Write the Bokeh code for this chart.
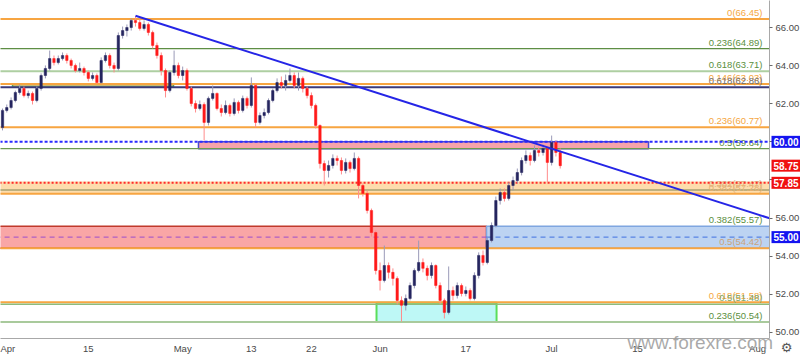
from bokeh.plotting import figure
from bokeh.models import Range1d, FixedTicker, Label, ColumnDataSource, PrintfTickFormatter
from bokeh.core.properties import value
from bokeh.embed import file_html
from bokeh.resources import INLINE

# ---------------- data ----------------
# candles: two per trading day, x in trading days from 1 Apr
first_open = 60.75
close = [61.65, 61.80, 62.17, 62.59, 62.80, 62.43, 62.54, 62.17, 62.80, 63.48,
         63.85, 64.37, 64.16, 64.37, 64.53, 64.27, 64.01, 63.74, 63.85, 63.64,
         63.33, 63.48, 63.11, 64.27, 64.53, 64.01, 63.85, 65.58, 65.84, 66.00,
         66.37, 66.26, 65.95, 66.16, 65.74, 65.06, 64.53, 63.74, 62.69, 63.64,
         64.01, 63.48, 63.74, 62.80, 62.01, 61.75, 61.96, 61.02, 62.28, 62.54,
         61.75, 61.54, 61.91, 61.49, 62.07, 61.65, 62.28, 61.91, 62.96, 61.02,
         61.38, 61.54, 62.17, 62.69, 63.11, 62.96, 63.22, 63.48, 62.96, 63.33,
         62.80, 62.43, 61.91, 60.86, 58.86, 58.50, 58.76, 59.13, 59.02, 58.50,
         58.92, 58.60, 59.13, 57.71, 57.29, 56.40, 55.24, 53.25, 52.73, 53.51,
         53.15, 52.83, 51.68, 51.42, 51.78, 52.46, 53.25, 53.67, 53.36, 52.99,
         53.51, 52.46, 51.68, 51.05, 52.20, 51.94, 52.46, 52.04, 52.20, 51.78,
         52.99, 54.04, 53.67, 54.82, 55.61, 56.92, 57.34, 57.03, 57.71, 57.97,
         58.39, 59.02, 59.28, 59.02, 59.55, 59.44, 59.65, 58.92, 59.97, 59.44,
         58.75]
high = [61.75, 61.96, 62.33, 62.69, 63.01, 62.90, 62.69, 62.64, 62.90, 63.59,
        64.01, 64.79, 64.53, 64.53, 64.69, 64.64, 64.37, 64.11, 64.16, 63.95,
        63.74, 63.64, 63.59, 64.43, 64.69, 64.64, 64.16, 65.74, 66.05, 66.16,
        66.47, 66.60, 66.47, 66.37, 66.26, 65.84, 65.21, 64.69, 63.85, 63.74,
        64.79, 64.16, 63.95, 63.85, 62.90, 62.17, 62.17, 62.07, 62.38, 62.96,
        62.59, 61.96, 62.17, 62.01, 62.28, 62.17, 62.43, 62.38, 63.38, 63.06,
        61.54, 61.75, 62.28, 62.80, 63.33, 63.43, 63.53, 63.85, 63.64, 63.64,
        63.43, 62.90, 62.59, 62.01, 60.91, 59.02, 59.02, 59.34, 59.28, 59.18,
        59.13, 59.02, 59.44, 59.23, 57.82, 57.45, 56.50, 55.35, 53.67, 54.56,
        53.67, 53.36, 52.94, 51.89, 51.99, 52.62, 53.36, 54.82, 53.88, 53.51,
        53.67, 53.57, 52.62, 51.78, 53.46, 52.41, 52.62, 52.57, 52.41, 52.31,
        53.15, 54.20, 54.30, 54.98, 55.77, 57.13, 57.55, 57.55, 57.87, 58.18,
        58.60, 59.18, 59.55, 59.44, 59.81, 59.76, 59.86, 59.76, 60.33, 60.07,
        59.65]
low = [60.60, 61.54, 61.70, 62.07, 62.48, 62.33, 62.28, 61.96, 62.07, 62.69,
       63.33, 63.74, 64.01, 64.06, 64.27, 64.11, 63.85, 63.64, 63.64, 63.48,
       63.17, 63.22, 63.06, 63.06, 64.16, 63.85, 63.64, 63.74, 65.42, 65.53,
       65.84, 66.05, 65.84, 65.84, 65.58, 64.90, 64.37, 63.48, 62.33, 62.59,
       63.48, 63.33, 63.22, 62.69, 61.86, 61.54, 61.65, 60.07, 60.86, 62.17,
       61.65, 61.33, 61.44, 61.33, 61.38, 61.49, 61.54, 61.75, 61.80, 60.75,
       60.91, 61.23, 61.44, 62.07, 62.59, 62.80, 62.69, 63.11, 62.80, 62.69,
       62.59, 62.28, 61.75, 60.70, 58.60, 57.71, 58.13, 58.60, 58.76, 58.29,
       58.34, 58.39, 58.50, 57.03, 57.13, 56.24, 55.03, 53.04, 52.20, 52.62,
       52.83, 52.46, 51.47, 50.57, 51.15, 51.68, 52.31, 53.15, 53.15, 52.73,
       52.83, 52.31, 51.47, 50.73, 50.94, 51.68, 51.78, 51.89, 51.89, 51.68,
       51.68, 52.83, 53.51, 53.57, 54.72, 55.51, 56.71, 56.87, 56.92, 57.45,
       57.82, 58.24, 58.86, 58.76, 58.92, 59.23, 59.28, 57.87, 58.76, 59.23,
       58.60]

tick_days = [0, 10, 21, 29, 36, 44, 54, 64, 74, 88]
tick_labels = ["Apr", "15", "May", "13", "22", "Jun", "17", "Jul", "15", "Aug"]
price_ticks = [50, 52, 54, 56, 58, 60, 62, 64, 66]

fib_values = [66.45, 64.89, 63.71, 63.03, 62.86, 60.77, 59.64, 57.47, 57.28, 55.57, 54.42, 51.58, 51.48, 50.54]
fib_labels = ["0(66.45)", "0.236(64.89)", "0.618(63.71)", "0.146(63.03)", "0.618(62.86)",
              "0.236(60.77)", "0.5(59.64)", "0.382(57.47)", "0.382(57.28)", "0.382(55.57)",
              "0.5(54.42)", "0.618(51.58)", "0.5(51.48)", "0.236(50.54)"]

trend_days = [15.5, 89.4]
trend_prices = [66.62, 55.99]

# zones: start day, end day, bottom price, top price
zone_start = [1.17, 22.84, -5.0, -5.0, 56.41, 43.59]
zone_end = [19.93, 75.29, 120.0, 56.41, 120.0, 57.58]
zone_bottom = [62.86, 59.64, 57.28, 54.42, 54.42, 50.54]
zone_top = [63.03, 60.00, 57.92, 55.57, 55.57, 51.55]

dashed_levels = [60.00, 57.85]
mid_level = 55.00
tag_values = [60.00, 58.75, 57.85, 55.00]
tag_texts = ["60.00", "58.75", "57.85", "55.00"]

# ---------------- figure ----------------
X0, X1 = -0.233, 89.39
Y0, Y1 = 49.68, 67.417
FW, FH = 769, 338
p = figure(frame_width=FW, frame_height=FH, output_backend="svg", toolbar_location=None,
           x_range=Range1d(X0, X1), y_range=Range1d(Y0, Y1), y_axis_location="right",
           min_border_left=0, min_border_top=0, min_border_right=31, min_border_bottom=17)
p.grid.visible = False
p.outline_line_color = None
p.background_fill_color = "white"

FONT = "Liberation Sans"

# zones
zone_fill = ["#b7b060", "#f7a3ab", "#fdd9a4", "#f9a6a6", "#bcd3f2", "#bef8f6"]
zone_line = ["#5aa85a", "#4b4bd0", None, "#c0392b", "#7fa6e0", "#5ade5a"]
zone_fill_alpha = [0.85, 1, 0.9, 1, 1, 1]
for i in range(len(zone_start)):
    p.quad(left=[zone_start[i]], right=[zone_end[i]], bottom=[zone_bottom[i]], top=[zone_top[i]],
           fill_color=zone_fill[i], fill_alpha=zone_fill_alpha[i],
           line_color=zone_line[i], line_width=1.5 if i != 5 else 2)

# fib lines
line_colors = ["#f7a541", "#5e8e44", "#aecfa2", "#f7a541", "#3a3a7a", "#f7a541", "#6b9a4f",
               "#a8a070", "#f7a541", None, "#f7a541", "#f7a541", "#8dbb7c", "#a9ca9c"]
line_widths = [2, 1.2, 2, 2, 2, 2, 1.2, 1.5, 2, 0, 2, 2, 1.5, 2]
text_colors = ["#f5a742", "#5b8f3e", "#5b8f3e", "#f5a742", "#707070", "#f5a742", "#5b8f3e",
               "#d8b486", "#e8b070", "#5b8f3e", "#c9a47c", "#f5a742", "#7ea86c", "#5b8f3e"]
for v, c, w in zip(fib_values, line_colors, line_widths):
    if c is not None:
        p.segment(x0=[-5], x1=[120], y0=[v], y1=[v], line_color=c, line_width=w)

px_per_day = FW / (X1 - X0)
px_per_unit = FH / (Y1 - Y0)
p.text(x=[X1 - 7 / px_per_day] * len(fib_values), y=fib_values, text=fib_labels,
       text_color=text_colors, text_align="right", text_baseline="bottom",
       text_font=value(FONT), text_font_size="9.5px", y_offset=-1)

# dashed levels
p.segment(x0=[-5], x1=[120], y0=[dashed_levels[0]], y1=[dashed_levels[0]],
          line_color="#2b2bff", line_width=2, line_dash="3 2")
p.segment(x0=[-5], x1=[120], y0=[dashed_levels[1]], y1=[dashed_levels[1]],
          line_color="#ff2a2a", line_width=2, line_dash="2 2")
p.segment(x0=[-5], x1=[zone_end[3]], y0=[mid_level], y1=[mid_level],
          line_color="#9c4dcc", line_width=1, line_dash="5 4")
p.segment(x0=[zone_start[4]], x1=[120], y0=[mid_level], y1=[mid_level],
          line_color="#3f6fe0", line_width=1, line_dash="5 4")

# candles
opens = [first_open] + close[:-1]
xs = [i / 2 for i in range(len(close))]
up = [c >= o for o, c in zip(opens, close)]
def sub(mask):
    idx = [i for i, m in enumerate(mask) if m]
    return ColumnDataSource(dict(
        x=[xs[i] for i in idx],
        top=[max(opens[i], close[i]) for i in idx],
        bottom=[min(opens[i], close[i]) for i in idx],
        high=[high[i] for i in idx], low=[low[i] for i in idx]))
src_up = sub(up)
src_dn = sub([not u for u in up])
p.segment(x0="x", x1="x", y0="low", y1="high", source=src_up, line_color="#9a9ab8", line_width=1)
p.segment(x0="x", x1="x", y0="low", y1="high", source=src_dn, line_color="#ff8c8c", line_width=1)
p.vbar(x="x", top="top", bottom="bottom", width=0.28, source=src_up,
       fill_color="#25255f", line_color="#25255f", line_width=0.5)
p.vbar(x="x", top="top", bottom="bottom", width=0.28, source=src_dn,
       fill_color="#ff1a1a", line_color="#ff1a1a", line_width=0.5)

# trend line
p.line(trend_days, trend_prices, line_color="#2525e6", line_width=2)

# axes
p.xaxis.ticker = FixedTicker(ticks=tick_days)
p.xaxis.major_label_overrides = {d: t for d, t in zip(tick_days, tick_labels)}
p.xaxis.axis_line_color = "#a8a8a8"
p.xaxis.major_tick_out = 0
p.xaxis.major_tick_in = 0
p.xaxis.minor_tick_line_color = None
p.xaxis.major_label_standoff = 4
p.xaxis.major_label_text_font = FONT
p.xaxis.major_label_text_font_size = "9.5px"
p.xaxis.major_label_text_color = "#4a4a4a"

p.yaxis.ticker = FixedTicker(ticks=price_ticks)
p.yaxis.formatter = PrintfTickFormatter(format="%.2f")
p.yaxis.axis_line_color = "#a8a8a8"
p.yaxis.major_tick_out = 3
p.yaxis.major_tick_in = 0
p.yaxis.major_tick_line_color = "#6a6a6a"
p.yaxis.minor_tick_line_color = None
p.yaxis.major_label_standoff = 3
p.yaxis.major_label_text_font = FONT
p.yaxis.major_label_text_font_size = "9.5px"
p.yaxis.major_label_text_color = "#4a4a4a"

# price tags on the axis (placed in the side panel so they are not clipped)
tag_bg = ["#1414f0", "#f01010", "#f01010", "#1414f0"]
for v, t, bg in zip(tag_values, tag_texts, tag_bg):
    p.add_layout(Label(x=X1 + 2 / px_per_day, y=v, text=t, text_color="white",
                       text_font=FONT, text_font_size="10px", text_font_style="bold",
                       text_align="left", text_baseline="middle",
                       background_fill_color=bg, background_fill_alpha=1, padding=2), "right")

# watermark and gear
p.add_layout(Label(x=X0 + 627 / px_per_day, y=Y0 - 4 / px_per_unit,
                   text="www.forexre.com", text_color="#9a9a9a", text_alpha=0.85,
                   text_font=FONT, text_font_size="19px", text_baseline="alphabetic"), "below")
p.add_layout(Label(x=X1 + 17 / px_per_day, y=Y0 - 9 / px_per_unit, text="⚙",
                   text_color="#555555", text_font="DejaVu Sans", text_font_size="13px",
                   text_align="center", text_baseline="middle"), "below")

open("out.html", "w").write(file_html(p, INLINE))
